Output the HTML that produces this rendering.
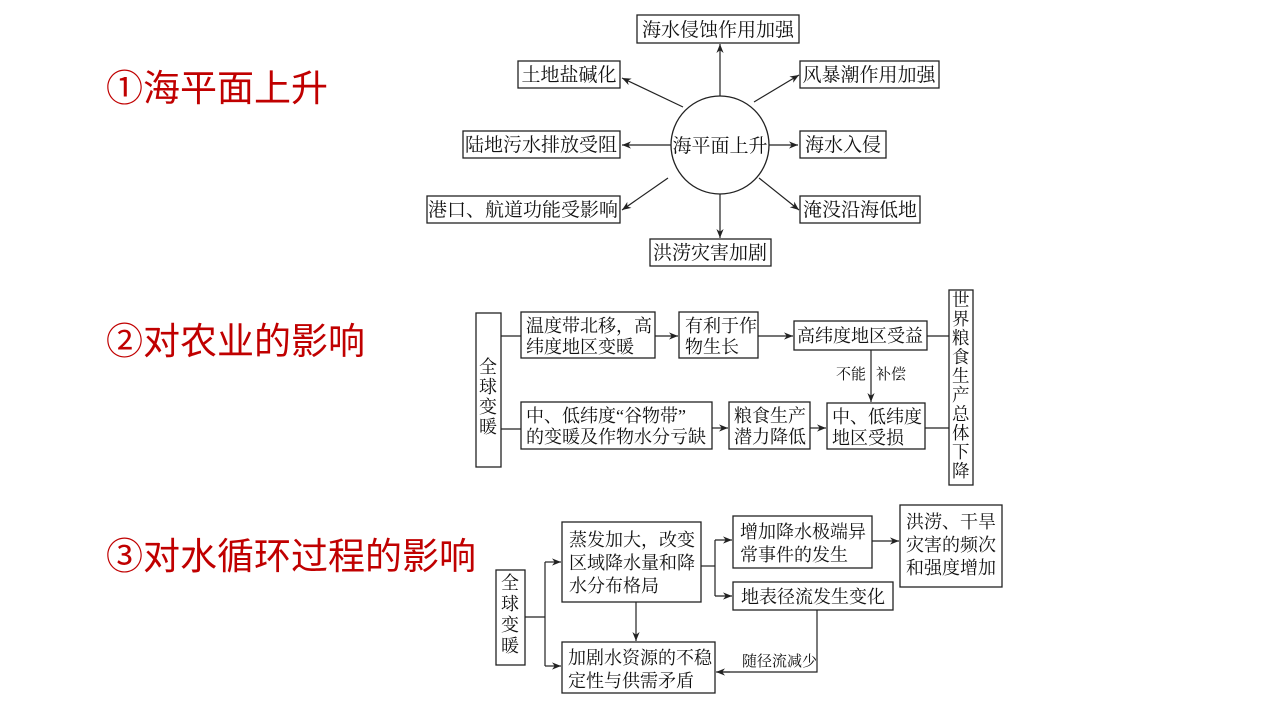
<!DOCTYPE html>
<html><head><meta charset="utf-8"><style>
html,body{margin:0;padding:0;background:#fff;width:1280px;height:720px;overflow:hidden}
svg{display:block}
.h{font-family:"Liberation Sans","Noto Sans CJK SC",sans-serif;font-size:37px;fill:#c00000}
.t{font-family:"Liberation Serif","Noto Serif CJK SC",serif;font-size:18px;fill:#111}
.u{font-family:"Liberation Serif","Noto Serif CJK SC",serif;font-size:19px;fill:#111}
.v{font-family:"Liberation Serif","Noto Serif CJK SC",serif;font-size:17.5px;fill:#111}
.s{font-family:"Liberation Serif","Noto Serif CJK SC",serif;font-size:15px;fill:#111}
rect{fill:#fff;stroke:#222;stroke-width:1.3}
line,polyline{stroke:#222;stroke-width:1.2;fill:none}
</style></head><body>
<svg width="1280" height="720" viewBox="0 0 1280 720">
<defs><marker id="a" viewBox="0 0 10 10" refX="10" refY="5" markerWidth="9" markerHeight="9" markerUnits="userSpaceOnUse" orient="auto"><path d="M0,1 L10,5 L0,9 L3,5Z" fill="#222"/></marker></defs>

<text class="h" x="106" y="101">①海平面上升</text>
<text class="h" x="106" y="354">②对农业的影响</text>
<text class="h" x="106" y="569">③对水循环过程的影响</text>

<!-- Section 1 -->
<circle cx="720" cy="145" r="49" fill="#fff" stroke="#222" stroke-width="1.3"/>
<text class="u" x="720" y="152" text-anchor="middle">海平面上升</text>
<rect x="637" y="15" width="162" height="28"/><text class="u" x="718" y="36" text-anchor="middle">海水侵蚀作用加强</text>
<rect x="518" y="61" width="102" height="27"/><text class="u" x="569" y="81" text-anchor="middle">土地盐碱化</text>
<rect x="800" y="61" width="139" height="27"/><text class="u" x="869" y="81" text-anchor="middle">风暴潮作用加强</text>
<rect x="463" y="131" width="157" height="27"/><text class="u" x="541" y="151" text-anchor="middle">陆地污水排放受阻</text>
<rect x="800" y="131" width="86" height="27"/><text class="u" x="843" y="151" text-anchor="middle">海水入侵</text>
<rect x="427" y="196" width="193" height="27"/><text class="u" x="523" y="216" text-anchor="middle">港口、航道功能受影响</text>
<rect x="800" y="196" width="120" height="27"/><text class="u" x="860" y="216" text-anchor="middle">淹没沿海低地</text>
<rect x="650" y="239" width="121" height="27"/><text class="u" x="710" y="259" text-anchor="middle">洪涝灾害加剧</text>
<line x1="720" y1="96" x2="720" y2="44" marker-end="url(#a)"/>
<line x1="720" y1="194" x2="720" y2="238" marker-end="url(#a)"/>
<line x1="671" y1="145" x2="622" y2="145" marker-end="url(#a)"/>
<line x1="769" y1="145" x2="798" y2="145" marker-end="url(#a)"/>
<line x1="683" y1="107" x2="622" y2="78" marker-end="url(#a)"/>
<line x1="754" y1="102" x2="799" y2="75" marker-end="url(#a)"/>
<line x1="668" y1="178" x2="622" y2="210" marker-end="url(#a)"/>
<line x1="759" y1="178" x2="799" y2="210" marker-end="url(#a)"/>

<!-- Section 2 -->
<rect x="476" y="313" width="25" height="154"/>
<text class="t"><tspan x="479" y="373">全</tspan><tspan x="479" y="393">球</tspan><tspan x="479" y="413">变</tspan><tspan x="479" y="433">暖</tspan></text>
<rect x="521" y="312" width="134" height="46"/>
<text class="t"><tspan x="526" y="332">温度带北移，高</tspan><tspan x="526" y="353">纬度地区变暖</tspan></text>
<rect x="679" y="312" width="79" height="46"/>
<text class="t"><tspan x="685" y="332">有利于作</tspan><tspan x="685" y="353">物生长</tspan></text>
<rect x="794" y="321" width="133" height="29"/><text class="t" x="860" y="342" text-anchor="middle">高纬度地区受益</text>
<rect x="949" y="290" width="24" height="195"/>
<text class="v"><tspan x="952" y="306">世</tspan><tspan x="952" y="325">界</tspan><tspan x="952" y="344">粮</tspan><tspan x="952" y="363">食</tspan><tspan x="952" y="382">生</tspan><tspan x="952" y="401">产</tspan><tspan x="952" y="420">总</tspan><tspan x="952" y="439">体</tspan><tspan x="952" y="458">下</tspan><tspan x="952" y="477">降</tspan></text>
<rect x="521" y="402" width="191" height="47"/>
<text class="t"><tspan x="526" y="422">中、低纬度“谷物带”</tspan><tspan x="526" y="443">的变暖及作物水分亏缺</tspan></text>
<rect x="729" y="402" width="81" height="47"/>
<text class="t"><tspan x="734" y="422">粮食生产</tspan><tspan x="734" y="443">潜力降低</tspan></text>
<rect x="827" y="403" width="98" height="46"/>
<text class="t"><tspan x="832" y="423">中、低纬度</tspan><tspan x="832" y="444">地区受损</tspan></text>
<line x1="501" y1="336" x2="521" y2="336"/>
<line x1="501" y1="429" x2="521" y2="429"/>
<line x1="655" y1="336" x2="678" y2="336" marker-end="url(#a)"/>
<line x1="758" y1="336" x2="793" y2="336" marker-end="url(#a)"/>
<line x1="927" y1="336" x2="949" y2="336"/>
<line x1="712" y1="428" x2="728" y2="428" marker-end="url(#a)"/>
<line x1="810" y1="428" x2="826" y2="428" marker-end="url(#a)"/>
<line x1="925" y1="428" x2="949" y2="428"/>
<line x1="871" y1="350" x2="871" y2="402" marker-end="url(#a)"/>
<text class="s" x="836" y="379">不能</text>
<text class="s" x="876" y="379">补偿</text>

<!-- Section 3 -->
<rect x="496" y="570" width="29" height="95"/>
<text class="t"><tspan x="501" y="589">全</tspan><tspan x="501" y="610">球</tspan><tspan x="501" y="631">变</tspan><tspan x="501" y="652">暖</tspan></text>
<polyline points="525,617 545,617"/>
<polyline points="545,562 545,666"/>
<line x1="545" y1="562" x2="561" y2="562" marker-end="url(#a)"/>
<line x1="545" y1="666" x2="561" y2="666" marker-end="url(#a)"/>
<rect x="562" y="522" width="139" height="80"/>
<text class="t"><tspan x="569" y="546">蒸发加大，改变</tspan><tspan x="569" y="569">区域降水量和降</tspan><tspan x="569" y="592">水分布格局</tspan></text>
<rect x="733" y="516" width="139" height="52"/>
<text class="t"><tspan x="740" y="538">增加降水极端异</tspan><tspan x="740" y="561">常事件的发生</tspan></text>
<rect x="733" y="582" width="160" height="28"/><text class="t" x="813" y="603" text-anchor="middle">地表径流发生变化</text>
<rect x="900" y="505" width="102" height="82"/>
<text class="t"><tspan x="906" y="528">洪涝、干旱</tspan><tspan x="906" y="551">灾害的频次</tspan><tspan x="906" y="574">和强度增加</tspan></text>
<rect x="562" y="642" width="153" height="51"/>
<text class="t"><tspan x="568" y="664">加剧水资源的不稳</tspan><tspan x="568" y="687">定性与供需矛盾</tspan></text>
<line x1="701" y1="566" x2="715" y2="566"/>
<line x1="715" y1="540" x2="715" y2="596"/>
<line x1="715" y1="540" x2="732" y2="540" marker-end="url(#a)"/>
<line x1="715" y1="596" x2="732" y2="596" marker-end="url(#a)"/>
<line x1="872" y1="541" x2="899" y2="541" marker-end="url(#a)"/>
<line x1="636" y1="602" x2="636" y2="641" marker-end="url(#a)"/>
<polyline points="817,610 817,672 717,672"/>
<line x1="730" y1="672" x2="716" y2="672" marker-end="url(#a)"/>
<text class="s" x="742" y="666">随径流减少</text>
</svg>
</body></html>
